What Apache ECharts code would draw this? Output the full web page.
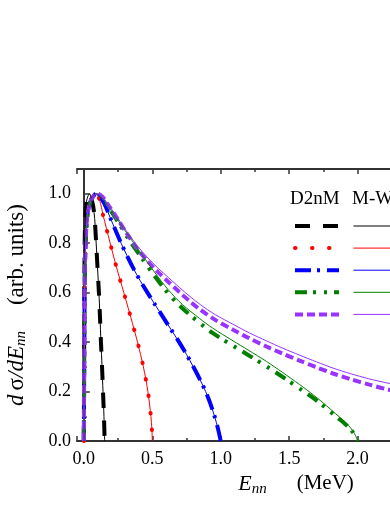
<!DOCTYPE html>
<html>
<head>
<meta charset="utf-8">
<script src="https://cdn.jsdelivr.net/npm/echarts@6/dist/echarts.min.js"></script>
<style>
  html, body { margin: 0; padding: 0; background: #fff; }
  #chart { width: 390px; height: 505px; }
</style>
</head>
<body>
<div id="chart"></div>
<script>
// 曲线数据 (E_nn in MeV, normalized dσ/dE)
var blackE = [0, 0.003, 0.006, 0.012, 0.02, 0.03, 0.042, 0.055, 0.068, 0.079, 0.09, 0.1, 0.11, 0.118, 0.125, 0.133, 0.14, 0.147, 0.152];
var blackV = [0, 0.5, 0.8, 0.92, 0.97, 0.99, 1.0, 0.98, 0.95, 0.9, 0.8, 0.7, 0.6, 0.5, 0.4, 0.3, 0.2, 0.1, 0];

var redE = [0, 0.004, 0.008, 0.018, 0.03, 0.05, 0.07, 0.09, 0.115, 0.14, 0.165, 0.19, 0.24, 0.292, 0.343, 0.392, 0.435, 0.468, 0.49, 0.497, 0.5];
var redV = [0, 0.45, 0.7, 0.86, 0.93, 0.97, 0.99, 1.0, 0.975, 0.915, 0.86, 0.805, 0.7, 0.6, 0.5, 0.4, 0.3, 0.2, 0.1, 0.05, 0];

var blueE = [0, 0.004, 0.008, 0.018, 0.03, 0.05, 0.07, 0.088, 0.12, 0.15, 0.195, 0.233, 0.272, 0.315, 0.36, 0.41, 0.465, 0.522, 0.58, 0.638, 0.696, 0.75, 0.8, 0.847, 0.89, 0.925, 0.955, 0.98, 1.0];
var blueV = [0, 0.45, 0.7, 0.86, 0.93, 0.97, 0.99, 1.0, 0.985, 0.96, 0.9, 0.85, 0.8, 0.75, 0.7, 0.65, 0.6, 0.55, 0.5, 0.45, 0.4, 0.35, 0.3, 0.25, 0.2, 0.15, 0.1, 0.05, 0];

var greenE = [0, 0.004, 0.008, 0.018, 0.03, 0.05, 0.07, 0.095, 0.13, 0.17, 0.24, 0.29, 0.34, 0.43, 0.52, 0.616, 0.72, 0.847, 0.94, 1.09, 1.2, 1.334, 1.45, 1.577, 1.68, 1.772, 1.84, 1.893, 1.935, 1.966, 1.985, 2.0];
var greenMW = [0, 0.45, 0.7, 0.86, 0.93, 0.97, 0.99, 1.0, 0.985, 0.955, 0.9, 0.86, 0.82, 0.75, 0.68, 0.612, 0.552, 0.495, 0.457, 0.405, 0.368, 0.322, 0.278, 0.228, 0.185, 0.143, 0.11, 0.085, 0.062, 0.04, 0.022, 0];
var greenD2 = [0, 0.45, 0.7, 0.86, 0.93, 0.97, 0.99, 1.0, 0.985, 0.953, 0.895, 0.85, 0.805, 0.735, 0.665, 0.597, 0.537, 0.477, 0.437, 0.385, 0.348, 0.302, 0.26, 0.212, 0.172, 0.132, 0.1, 0.077, 0.055, 0.035, 0.018, 0];

var purpleE = [0, 0.004, 0.008, 0.018, 0.03, 0.05, 0.07, 0.1, 0.14, 0.18, 0.25, 0.31, 0.39, 0.46, 0.54, 0.62, 0.7, 0.77, 0.85, 0.96, 1.09, 1.21, 1.334, 1.45, 1.577, 1.7, 1.82, 1.95, 2.08, 2.23, 2.4];
var purpleMW = [0, 0.45, 0.7, 0.86, 0.93, 0.97, 0.99, 1.0, 0.985, 0.955, 0.9, 0.85, 0.79, 0.745, 0.7, 0.66, 0.62, 0.587, 0.552, 0.511, 0.472, 0.437, 0.405, 0.376, 0.347, 0.32, 0.295, 0.272, 0.252, 0.233, 0.215];
var purpleD2 = [0, 0.45, 0.7, 0.86, 0.93, 0.97, 0.99, 1.0, 0.985, 0.953, 0.895, 0.842, 0.778, 0.731, 0.684, 0.642, 0.601, 0.567, 0.531, 0.49, 0.45, 0.415, 0.382, 0.354, 0.325, 0.298, 0.273, 0.25, 0.229, 0.207, 0.188];

var xMin = -0.05, xMax = 3.15;
var yMin = 0, yMax = 1.1, yStep = 0.2;

function pairs(xs, ys) {
    var out = [];
    for (var i = 0; i < xs.length; i++) out.push([xs[i], ys[i]]);
    return out;
}

var serif = 'Liberation Serif';
var axisColor = '#333';

var d2nm = [
    {name: 'd-black', color: '#000000', data: pairs(blackE, blackV), type: [15, 13], cap: 'butt'},
    {name: 'd-red', color: '#ff0000', data: pairs(redE, redV), type: [0.5, 16.5], cap: 'round'},
    {name: 'd-blue', color: '#0000ff', data: pairs(blueE, blueV), type: [16, 6, 3, 7], cap: 'butt'},
    {name: 'd-green', color: '#008000', data: pairs(greenE, greenD2), type: [12, 6, 3, 8, 3, 7], cap: 'butt'},
    {name: 'd-purple', color: '#9933ff', data: pairs(purpleE, purpleD2), type: [8, 4], cap: 'butt'}
];
var mw = [
    {name: 'm-black', color: '#000000', data: pairs(blackE, blackV)},
    {name: 'm-red', color: '#ff0000', data: pairs(redE, redV)},
    {name: 'm-blue', color: '#0000ff', data: pairs(blueE, blueV)},
    {name: 'm-green', color: '#008000', data: pairs(greenE, greenMW)},
    {name: 'm-purple', color: '#9933ff', data: pairs(purpleE, purpleMW)}
];

var series = [];
d2nm.forEach(function (s) {
    series.push({
        name: s.name, type: 'line', data: s.data, symbol: 'none', smooth: 0.3,
        lineStyle: {color: s.color, width: 4, type: s.type, cap: s.cap},
        itemStyle: {color: s.color}, z: 2
    });
});
mw.forEach(function (s) {
    series.push({
        name: s.name, type: 'line', data: s.data, symbol: 'none', smooth: 0.3,
        lineStyle: {color: s.color, width: 1},
        itemStyle: {color: s.color}, z: 3
    });
});

var richY = {
    i: {fontFamily: serif, fontStyle: 'italic', fontSize: 23, color: '#000'},
    g: {fontFamily: serif, fontSize: 23, color: '#000', padding: [0, 0, 0, 4]},
    s: {fontFamily: serif, fontStyle: 'italic', fontSize: 15, color: '#000', padding: [10, 0, 0, 0]},
    n: {fontFamily: serif, fontSize: 23, color: '#000', padding: [0, 0, 0, 26]}
};
var richX = {
    i: {fontFamily: serif, fontStyle: 'italic', fontSize: 22, color: '#000'},
    s: {fontFamily: serif, fontStyle: 'italic', fontSize: 15, color: '#000', padding: [10, 0, 0, 0]},
    n: {fontFamily: serif, fontSize: 21, color: '#000', padding: [0, 0, 0, 30]}
};

var chart = echarts.init(document.getElementById('chart'));
chart.setOption({
    animation: false,
    backgroundColor: '#fff',
    grid: {left: 77, top: 169, width: 438, height: 272, outerBoundsMode: 'none', containLabel: false},
    xAxis: [{
        type: 'value', min: xMin, max: xMax,
        name: '{i|E}{s|nn}{n|(MeV)}', nameLocation: 'middle', nameGap: 27,
        nameTextStyle: {rich: richX},
        axisLine: {lineStyle: {color: axisColor, width: 2}},
        axisTick: {inside: true, length: 5, lineStyle: {color: axisColor, width: 1.5}},
        minorTick: {show: true, splitNumber: 2, length: 3, lineStyle: {color: axisColor, width: 1.5}},
        axisLabel: {fontFamily: serif, fontSize: 18, color: '#000', margin: 9, showMinLabel: false,
            formatter: function (v) { return v.toFixed(1); }},
        splitLine: {show: false}
    }, {
        type: 'value', min: xMin, max: xMax, position: 'top',
        axisLine: {lineStyle: {color: axisColor, width: 2}},
        axisTick: {inside: true, length: 5, lineStyle: {color: axisColor, width: 1.5}},
        minorTick: {show: true, splitNumber: 2, length: 3, lineStyle: {color: axisColor, width: 1.5}},
        axisLabel: {show: false},
        splitLine: {show: false}
    }],
    yAxis: {
        type: 'value', min: yMin, max: yMax, interval: yStep,
        name: '{i|d}{g|σ}{i|/dE}{s|nn}{n|(arb. units)}', nameLocation: 'middle', nameGap: 48,
        nameTextStyle: {rich: richY},
        axisLine: {show: true, lineStyle: {color: axisColor, width: 2}},
        axisTick: {show: true, inside: true, length: 6, lineStyle: {color: axisColor, width: 1.5}},
        minorTick: {show: true, splitNumber: 2, length: 3, lineStyle: {color: axisColor, width: 1.5}},
        axisLabel: {fontFamily: serif, fontSize: 18, color: '#000', margin: 6, showMaxLabel: false,
            formatter: function (v) { return v.toFixed(1); }},
        splitLine: {show: false}
    },
    legend: [{
        left: 288, top: 214, orient: 'vertical', itemWidth: 44, itemHeight: 14, itemGap: 9.5,
        data: d2nm.map(function (s) { return s.name; }),
        formatter: function () { return ''; },
        lineStyle: {width: 4}, itemStyle: {opacity: 0, color: 'rgba(0,0,0,0)', borderWidth: 0},
        selectedMode: false
    }, {
        left: 348, top: 214, orient: 'vertical', itemWidth: 50, itemHeight: 14, itemGap: 9.5,
        data: mw.map(function (s) { return s.name; }),
        formatter: function () { return ''; },
        lineStyle: {width: 1}, itemStyle: {opacity: 0, color: 'rgba(0,0,0,0)', borderWidth: 0},
        selectedMode: false
    }],
    graphic: [
        {type: 'text', left: 290, top: 190, style: {text: 'D2nM', font: '19px "Liberation Serif"', fill: '#000'}},
        {type: 'text', left: 352, top: 190, style: {text: 'M-W', font: '19px "Liberation Serif"', fill: '#000'}}
    ],
    series: series
});
</script>
</body>
</html>
